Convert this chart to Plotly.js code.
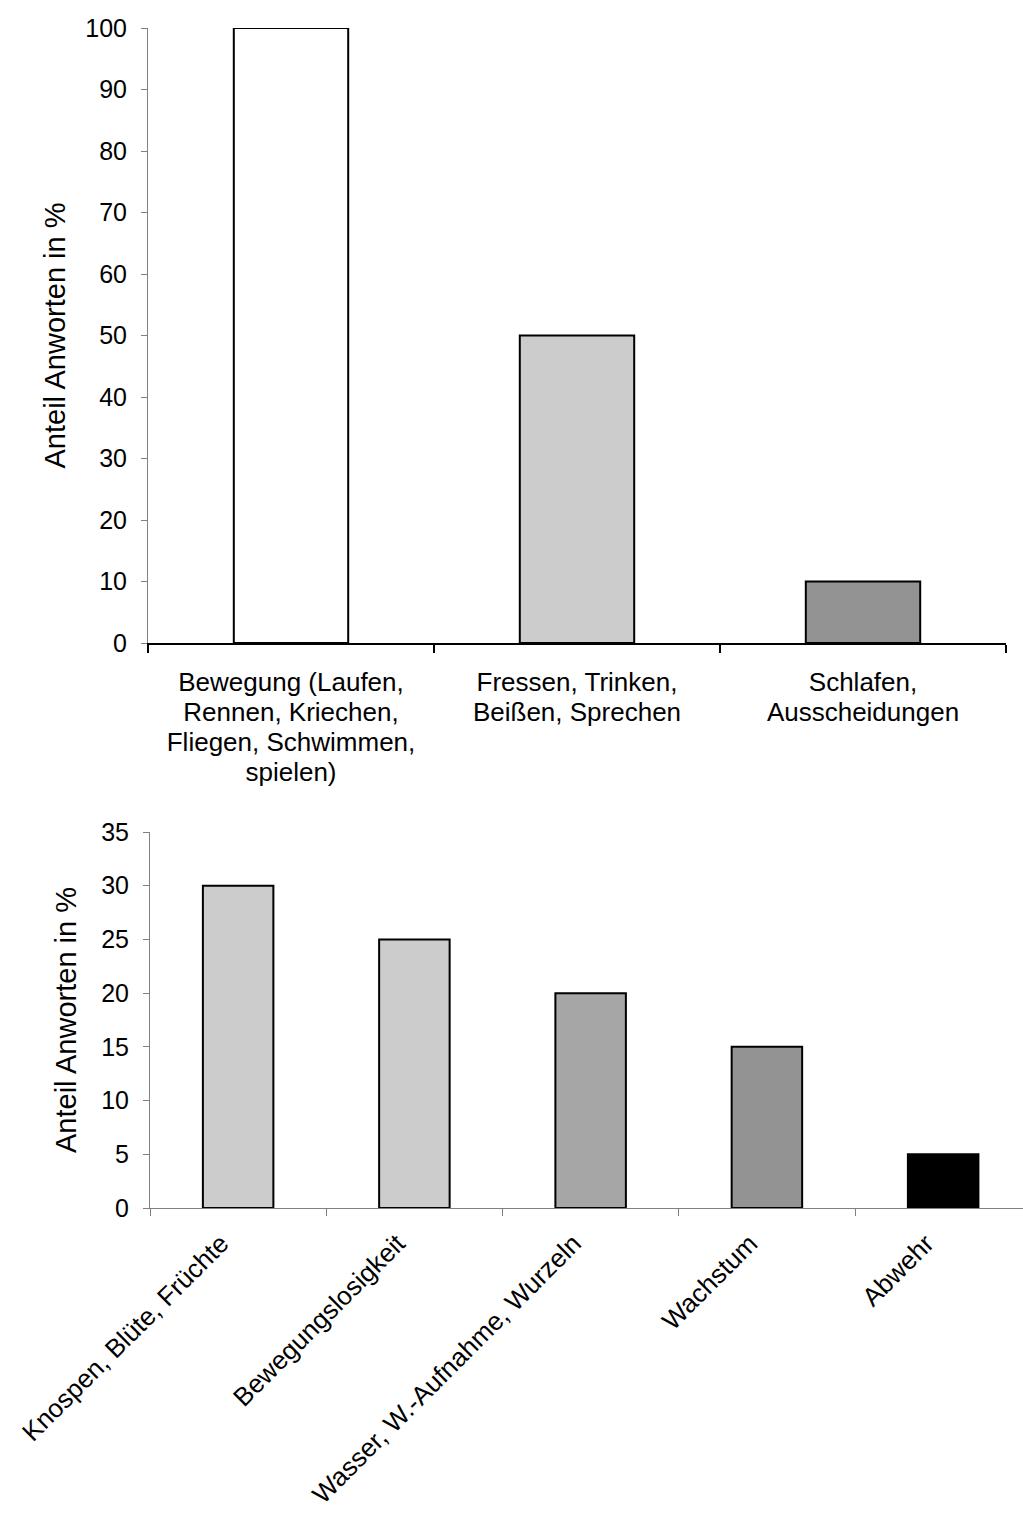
<!DOCTYPE html>
<html>
<head>
<meta charset="utf-8">
<script src="https://cdn.plot.ly/plotly-3.0.1.min.js"></script>
<style>
html,body{margin:0;padding:0;background:#fff;overflow:hidden;}
#chart{width:1023px;height:1519px;}
</style>
</head>
<body>
<div id="chart"></div>
<script>
const topCategories = [
  "Bewegung (Laufen,<br>Rennen, Kriechen,<br>Fliegen, Schwimmen,<br>spielen)",
  "Fressen, Trinken,<br>Beißen, Sprechen",
  "Schlafen,<br>Ausscheidungen"
];
const topValues = [100, 50, 10];

const bottomCategories = [
  "Knospen, Blüte, Früchte",
  "Bewegungslosigkeit",
  "Wasser, W.-Aufnahme, Wurzeln",
  "Wachstum",
  "Abwehr"
];
const bottomValues = [30, 25, 20, 15, 5];

const yTitle = "Anteil Anworten in %";
const topTicks = [0, 10, 20, 30, 40, 50, 60, 70, 80, 90, 100];
const bottomTicks = [0, 5, 10, 15, 20, 25, 30, 35];

const topColors = ["#ffffff", "#cccccc", "#939393"];
const bottomColors = ["#cccccc", "#cccccc", "#a6a6a6", "#939393", "#000000"];

const W = 1023, H = 1519;
const FONT = "Liberation Sans, Arial, sans-serif";
const YTICK = {family: FONT, size: 25, color: "#000"};
const XTICK = {family: FONT, size: 26, color: "#000"};
const TITLE = {family: FONT, size: 29, color: "#000"};

const traces = [
  {
    type: "bar", x: topCategories, y: topValues, xaxis: "x", yaxis: "y",
    marker: {color: topColors, line: {color: "#000", width: 2}},
    hoverinfo: "none", showlegend: false
  },
  {
    type: "bar", x: bottomCategories, y: bottomValues, xaxis: "x2", yaxis: "y2",
    marker: {color: bottomColors, line: {color: "#000", width: 2}},
    hoverinfo: "none", showlegend: false
  }
];

const layout = {
  width: W, height: H,
  margin: {l: 0, r: 0, t: 0, b: 0},
  paper_bgcolor: "#fff", plot_bgcolor: "#fff",
  font: {family: FONT, size: 25, color: "#000"},
  bargap: 0.6,
  showlegend: false,
  xaxis: {
    domain: [148 / W, 1006 / W],
    anchor: "y",
    type: "category",
    range: [-0.5, 2.5],
    showline: true, linecolor: "#000", linewidth: 2,
    ticks: "outside", tickson: "boundaries", ticklen: 8, tickwidth: 2, tickcolor: "#000",
    tickangle: 0,
    ticklabelstandoff: 15,
    showgrid: false, zeroline: false,
    automargin: false,
    tickfont: XTICK
  },
  yaxis: {
    domain: [1 - 643 / H, 1 - 28 / H],
    anchor: "x",
    range: [0, 100],
    tickvals: topTicks,
    showline: true, linecolor: "#808080", linewidth: 1,
    ticks: "outside", ticklen: 6, tickcolor: "#808080",
    ticklabelstandoff: 9,
    showgrid: false, zeroline: false,
    automargin: false,
    tickfont: YTICK,
    title: {text: yTitle, font: TITLE, standoff: 11}
  },
  xaxis2: {
    domain: [150 / W, 1],
    anchor: "y2",
    type: "category",
    range: [-0.5, 4.453],
    showline: true, linecolor: "#808080", linewidth: 1,
    ticks: "outside", tickson: "boundaries", ticklen: 7, tickcolor: "#808080",
    tickangle: -45,
    ticklabelstandoff: 9,
    ticklabelshift: -17,
    showgrid: false, zeroline: false,
    automargin: false,
    tickfont: XTICK
  },
  yaxis2: {
    domain: [1 - 1208 / H, 1 - 832 / H],
    anchor: "x2",
    range: [0, 35],
    tickvals: bottomTicks,
    showline: true, linecolor: "#808080", linewidth: 1,
    ticks: "outside", ticklen: 6, tickcolor: "#808080",
    ticklabelstandoff: 9,
    showgrid: false, zeroline: false,
    automargin: false,
    tickfont: YTICK,
    title: {text: yTitle, font: TITLE, standoff: 16}
  }
};

Plotly.newPlot("chart", traces, layout, {displayModeBar: false, staticPlot: true}).then(function (gd) {
  // tighten multi-line category label spacing to match the reference
  gd.querySelectorAll(".xaxislayer-above .xtick text").forEach(function (t) {
    t.querySelectorAll("tspan.line").forEach(function (ts, i) {
      ts.setAttribute("dy", (i * 1.15) + "em");
    });
  });
});
</script>
</body>
</html>
